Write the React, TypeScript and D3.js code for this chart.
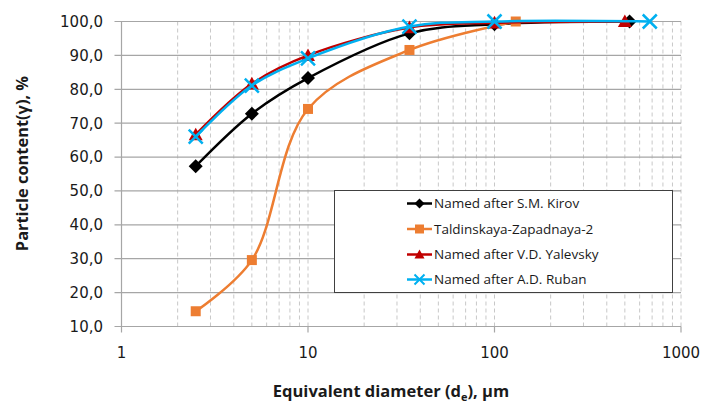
import React from "react";
import * as d3 from "d3";

// particle size distribution, four mines
const seriesNames = [
  "Named after S.M. Kirov",
  "Taldinskaya-Zapadnaya-2",
  "Named after V.D. Yalevsky",
  "Named after A.D. Ruban",
];
const kirovX = [2.5, 5, 10, 35, 100, 530];
const kirovY = [57.3, 72.8, 83.3, 96.5, 99.2, 100];
const taldX = [2.5, 5, 10, 35, 130];
const taldY = [14.5, 29.6, 74.2, 91.6, 100];
const yalevX = [2.5, 5, 10, 35, 100, 500];
const yalevY = [66.6, 81.6, 90.0, 98.2, 99.6, 100];
const rubanX = [2.5, 5, 10, 35, 100, 680];
const rubanY = [66.0, 81.1, 89.1, 98.5, 100, 100];

const yTicks = [10, 20, 30, 40, 50, 60, 70, 80, 90, 100];
const xMajor = [1, 10, 100, 1000];

const colors = ["#000000", "#ED7D31", "#C00000", "#00B0F0"];
const markers = ["diamond", "square", "triangle", "cross"];

const W = 704;
const H = 403;

const markerPath = (kind, r) => {
  if (kind === "diamond") return `M0,${-r}L${r},0L0,${r}L${-r},0Z`;
  if (kind === "square") return `M${-r},${-r}H${r}V${r}H${-r}Z`;
  if (kind === "triangle") return `M0,${-r}L${r},${r * 0.8}L${-r},${r * 0.8}Z`;
  return `M${-r},${-r}L${r},${r}M${r},${-r}L${-r},${r}`;
};

const App = () => {
  const ref = React.useRef(null);

  React.useEffect(() => {
    const svg = d3.select(ref.current);
    svg.selectAll("*").remove();

    const x = d3.scaleLog().domain([1, 1000]).range([121.5, 681]);
    const y = d3.scaleLinear().domain([10, 100]).range([326.5, 21.5]);

    const tickFont = "'DejaVu Sans', sans-serif";

    // minor vertical grid (dashed)
    const minor = [];
    for (let d = 1; d < 1000; d *= 10) {
      for (let k = 2; k <= 10; k++) minor.push(d * k);
    }
    svg.append("g")
      .selectAll("line")
      .data(minor)
      .join("line")
      .attr("x1", d => x(d)).attr("x2", d => x(d))
      .attr("y1", y(100)).attr("y2", y(10))
      .attr("stroke", "#C8C8C8")
      .attr("stroke-width", 1)
      .attr("stroke-dasharray", "4,3");

    // horizontal grid
    svg.append("g")
      .selectAll("line")
      .data(yTicks)
      .join("line")
      .attr("x1", x(1) - 7).attr("x2", x(1000))
      .attr("y1", d => y(d)).attr("y2", d => y(d))
      .attr("stroke", "#A6A6A6")
      .attr("stroke-width", 1.2);

    // y axis line
    svg.append("line")
      .attr("x1", x(1)).attr("x2", x(1))
      .attr("y1", y(100)).attr("y2", y(10))
      .attr("stroke", "#A6A6A6").attr("stroke-width", 1.2);

    // x ticks
    svg.append("g")
      .selectAll("line")
      .data(xMajor)
      .join("line")
      .attr("x1", d => x(d)).attr("x2", d => x(d))
      .attr("y1", y(10)).attr("y2", y(10) + 6)
      .attr("stroke", "#A6A6A6").attr("stroke-width", 1.2);

    svg.append("g")
      .selectAll("text")
      .data(yTicks)
      .join("text")
      .attr("x", 103)
      .attr("y", d => y(d))
      .attr("dy", "0.36em")
      .attr("text-anchor", "end")
      .attr("font-family", tickFont)
      .attr("font-size", 15)
      .attr("fill", "#1a1a1a")
      .text(d => d.toFixed(1).replace(".", ","));

    svg.append("g")
      .selectAll("text")
      .data(xMajor)
      .join("text")
      .attr("x", d => x(d))
      .attr("y", 358)
      .attr("text-anchor", "middle")
      .attr("font-family", tickFont)
      .attr("font-size", 15)
      .attr("fill", "#1a1a1a")
      .text(d => d);

    // axis titles
    const xt = svg.append("text")
      .attr("x", 391)
      .attr("y", 397)
      .attr("text-anchor", "middle")
      .attr("font-family", "'Open Sans', sans-serif")
      .attr("font-weight", "bold")
      .attr("font-size", 16.5)
      .attr("fill", "#1a1a1a");
    xt.append("tspan").text("Equivalent diameter (d");
    xt.append("tspan").attr("font-size", 11).attr("dy", 4).text("e");
    xt.append("tspan").attr("dy", -4).text("), µm");

    svg.append("text")
      .attr("transform", "translate(27.5,163.5) rotate(-90)")
      .attr("text-anchor", "middle")
      .attr("font-family", "'Open Sans', sans-serif")
      .attr("font-weight", "bold")
      .attr("font-size", 16.4)
      .attr("fill", "#1a1a1a")
      .text("Particle content(γ), %");

    // series
    const data = [
      d3.zip(kirovX, kirovY),
      d3.zip(taldX, taldY),
      d3.zip(yalevX, yalevY),
      d3.zip(rubanX, rubanY),
    ];
    const line = d3.line()
      .x(d => x(d[0]))
      .y(d => y(d[1]))
      .curve(d3.curveCatmullRom.alpha(0.5));

    const sizes = [7, 5, 7, 7];
    data.forEach((pts, i) => {
      const g = svg.append("g");
      g.append("path")
        .attr("d", line(pts))
        .attr("fill", "none")
        .attr("stroke", colors[i])
        .attr("stroke-width", 2.5);
      g.selectAll("path.m")
        .data(pts)
        .join("path")
        .attr("class", "m")
        .attr("transform", d => `translate(${x(d[0])},${y(d[1])})`)
        .attr("d", markerPath(markers[i], sizes[i]))
        .attr("fill", markers[i] === "cross" ? "none" : colors[i])
        .attr("stroke", colors[i])
        .attr("stroke-width", markers[i] === "cross" ? 2.5 : 0);
    });

    // legend
    const lg = svg.append("g");
    lg.append("rect")
      .attr("x", 334.5).attr("y", 190.5)
      .attr("width", 338).attr("height", 102)
      .attr("fill", "white")
      .attr("stroke", "#404040")
      .attr("stroke-width", 1);
    const legendRows = [203.5, 229, 254.5, 279.5];
    seriesNames.forEach((name, i) => {
      const row = lg.append("g").attr("transform", `translate(0,${legendRows[i]})`);
      row.append("line")
        .attr("x1", 407).attr("x2", 432)
        .attr("stroke", colors[i]).attr("stroke-width", 2.5);
      row.append("path")
        .attr("transform", "translate(419.5,0)")
        .attr("d", markerPath(markers[i], i === 1 ? 4.5 : 5))
        .attr("fill", markers[i] === "cross" ? "none" : colors[i])
        .attr("stroke", colors[i])
        .attr("stroke-width", markers[i] === "cross" ? 2 : 0);
      row.append("text")
        .attr("x", 434)
        .attr("dy", "0.36em")
        .attr("font-family", "'Open Sans', sans-serif")
        .attr("font-size", 13.5)
        .attr("fill", "#1a1a1a")
        .text(name);
    });
  }, []);

  return (
    <svg
      ref={ref}
      width={W}
      height={H}
      style={{ position: "absolute", left: 0, top: 0, background: "white" }}
    />
  );
};

export default App;
